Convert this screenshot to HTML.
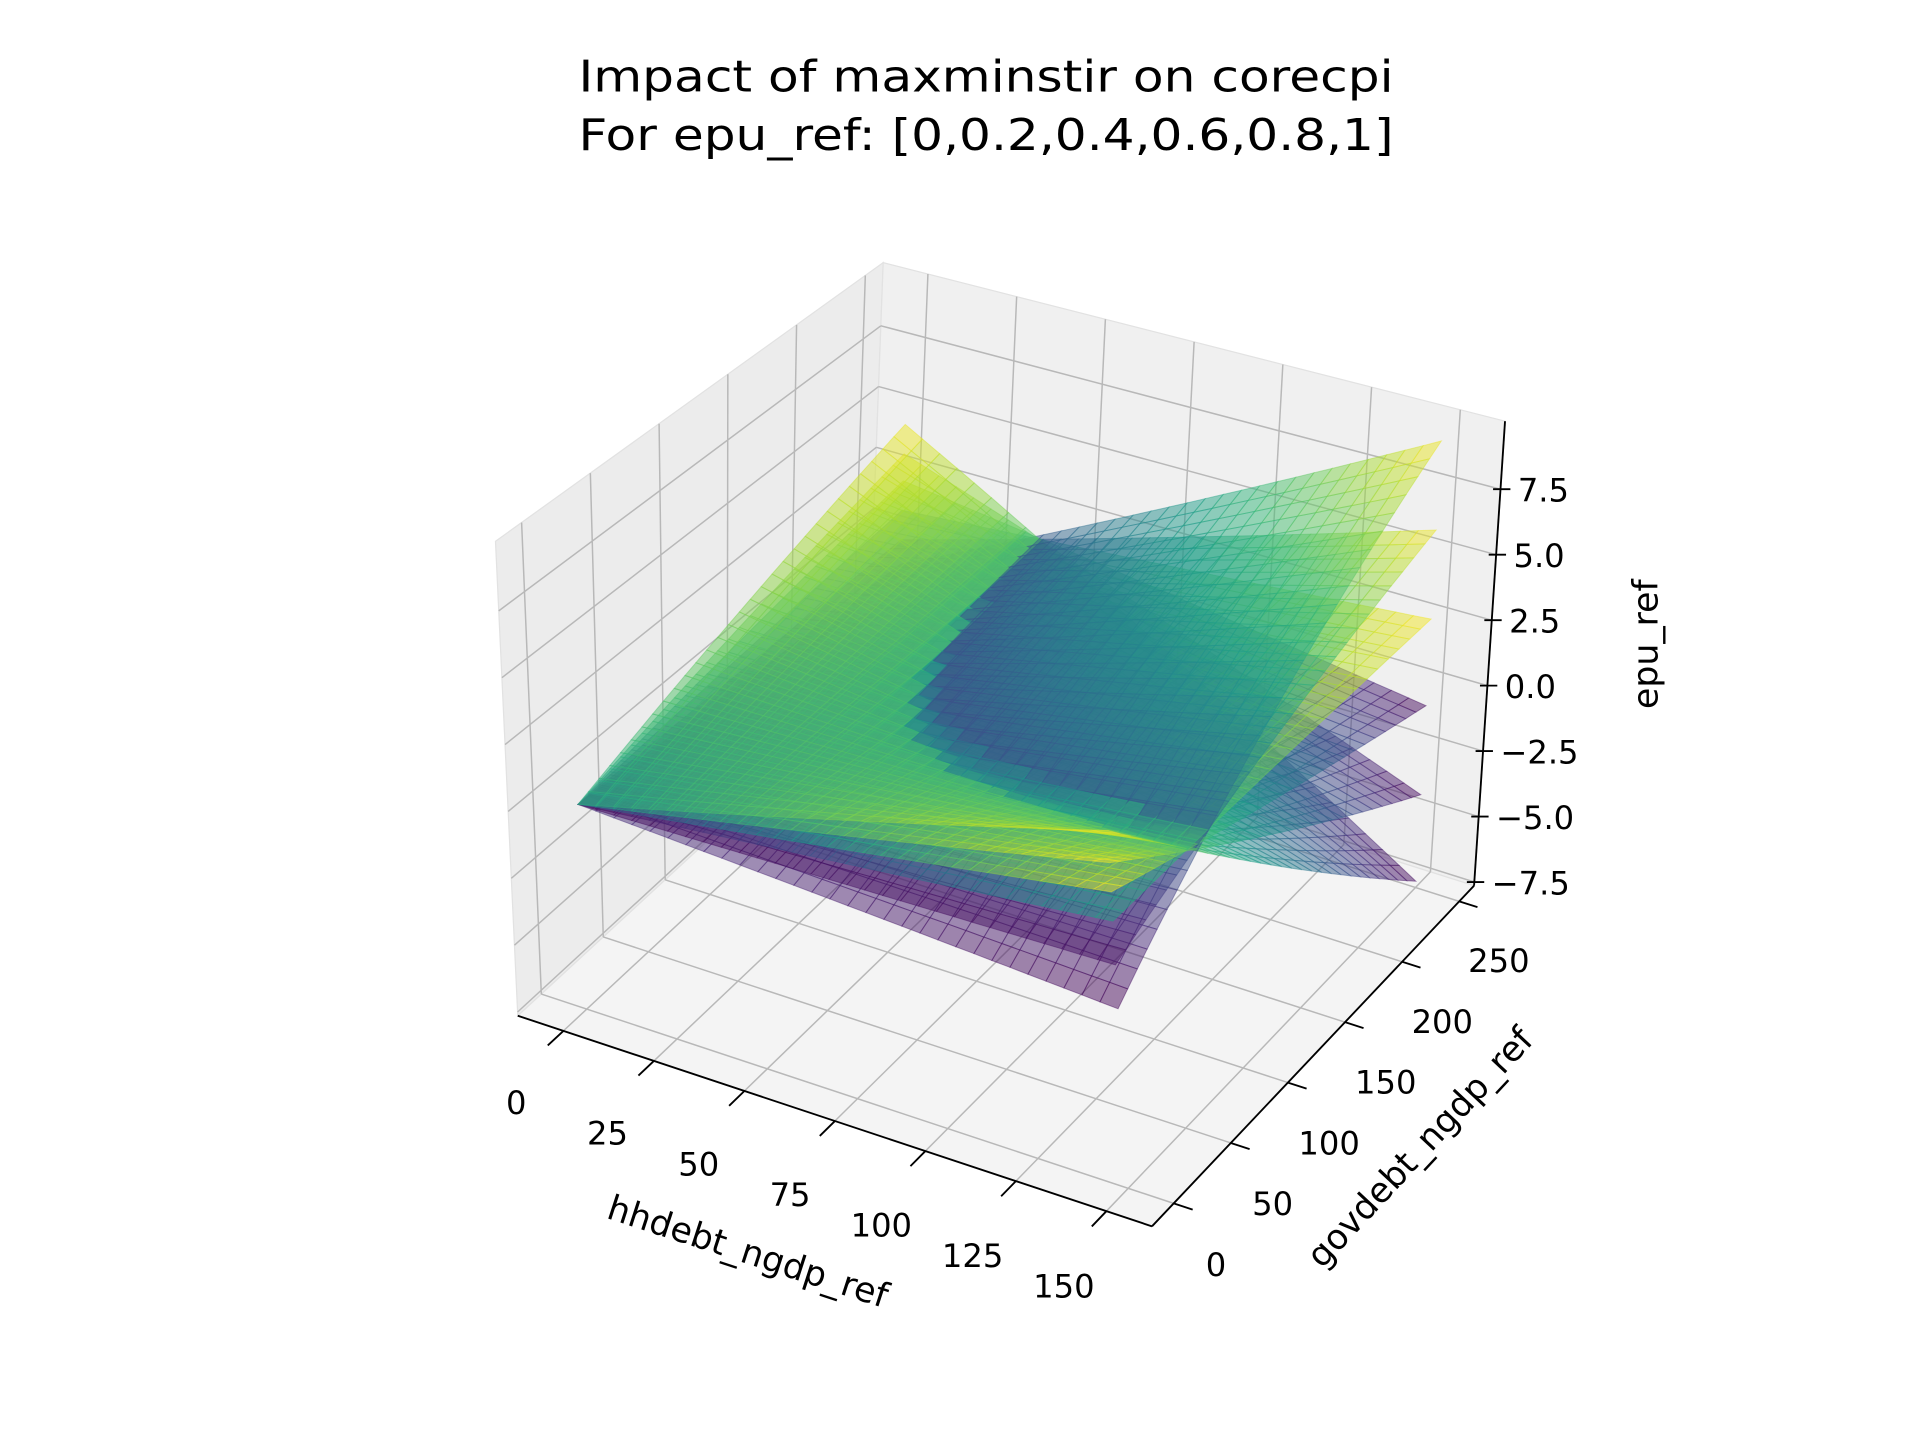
<!DOCTYPE html>
<html><head><meta charset="utf-8"><style>
html,body{margin:0;padding:0;background:#fff}
svg{display:block}
text{font-family:"DejaVu Sans","Liberation Sans",sans-serif;fill:#000}
</style></head><body>
<svg id="chart" width="1920" height="1440" viewBox="0 0 1550 1162.5" preserveAspectRatio="none" xmlns="http://www.w3.org/2000/svg">
<rect width="1550" height="1162.5" fill="#fff"/>
<text x="796" y="74" font-size="35" text-anchor="middle" textLength="658" lengthAdjust="spacingAndGlyphs">Impact of maxminstir on corecpi</text>
<text x="796" y="121" font-size="35" text-anchor="middle" textLength="658" lengthAdjust="spacingAndGlyphs">For epu_ref: [0,0.2,0.4,0.6,0.8,1]</text>
<g id="panes"></g>
<g id="grid"></g>
<g id="surf"></g>
<g id="axes"></g>
<text x="604" y="1020" font-size="28" text-anchor="middle" transform="rotate(18 604 1010)">hhdebt_ngdp_ref</text>
<text x="1146" y="936" font-size="28" text-anchor="middle" transform="rotate(-47 1146 926)">govdebt_ngdp_ref</text>
<text x="1328" y="530" font-size="28" text-anchor="middle" transform="rotate(-90 1328 520)">epu_ref</text>
</svg>
<script>
const xTicks=[0,25,50,75,100,125,150];
const yTicks=[0,50,100,150,200,250];
const zTicks=[-7.5,-5,-2.5,0,2.5,5,7.5];
const zTickLabels=["−7.5","−5.0","−2.5","0.0","2.5","5.0","7.5"];
const epuLevels=[0,0.2,0.4,0.6,0.8,1];
const z00=[0,0,0,0,0,0];
const z10=[4.6,3.5,2.5,1.5,0.0,-1.5];
const z01=[4.5,3.3,2.2,1.0,-0.2,-1.2];
const z11=[-7.4,-4.1,-0.7,2.6,6.0,9.4];
const xLim=[-12.6,162.6], yLim=[-19,263], zLim=[-7.64,10.1];
const xData=[0,150], yData=[0,250];

const NS="http://www.w3.org/2000/svg";
const C={A:[418,820],B:[930,990],C:[1190,715],D:[700,560],Ap:[400,437],Bp:[902,565],Cp:[1215,340],Dp:[713,212]};
function lerp(a,b,t){return [a[0]+(b[0]-a[0])*t,a[1]+(b[1]-a[1])*t];}
function P(s,t,w){
  const b0=lerp(lerp(C.A,C.B,s),lerp(C.D,C.C,s),t);
  const b1=lerp(lerp(C.Ap,C.Bp,s),lerp(C.Dp,C.Cp,s),t);
  return lerp(b0,b1,w);
}
const sx=x=>(x-xLim[0])/(xLim[1]-xLim[0]);
const sy=y=>(y-yLim[0])/(yLim[1]-yLim[0]);
const sz=z=>(z-zLim[0])/(zLim[1]-zLim[0]);
function pts(a){return a.map(p=>p[0].toFixed(1)+","+p[1].toFixed(1)).join(" ");}
function mk(tag,attrs,parent){const e=document.createElementNS(NS,tag);for(const k in attrs)e.setAttribute(k,attrs[k]);parent.appendChild(e);return e;}
const panes=document.getElementById('panes'),grid=document.getElementById('grid'),surf=document.getElementById('surf'),axes=document.getElementById('axes'),svg=document.getElementById('chart');

let e;
e=mk('polygon',{points:pts([P(0,0,0),P(0,1,0),P(0,1,1),P(0,0,1)]),fill:'#ececec',stroke:'#e2e2e2'},panes);

e=mk('polygon',{points:pts([P(0,1,0),P(1,1,0),P(1,1,1),P(0,1,1)]),fill:'#f0f0f0',stroke:'#e2e2e2'},panes);

e=mk('polygon',{points:pts([P(0,0,0),P(1,0,0),P(1,1,0),P(0,1,0)]),fill:'#f4f4f4',stroke:'#e2e2e2'},panes);


function gl(a,b){const l=mk('line',{x1:a[0],y1:a[1],x2:b[0],y2:b[1],stroke:'#b8b8b8','stroke-width':1.2},grid);
}
xTicks.forEach(v=>{const s=sx(v);gl(P(s,0,0),P(s,1,0));gl(P(s,1,0),P(s,1,1));});
yTicks.forEach(v=>{const t=sy(v);gl(P(0,t,0),P(1,t,0));gl(P(0,t,0),P(0,t,1));});
zTicks.forEach(v=>{const w=sz(v);gl(P(0,0,w),P(0,1,w));gl(P(0,1,w),P(1,1,w));});

const VS=[[68,1,84],[72,40,120],[62,74,137],[49,104,142],[38,130,142],[31,158,137],[53,183,121],[109,205,89],[180,222,44],[253,231,37]];
function vir(f){f=Math.max(0,Math.min(1,f))*(VS.length-1);const i=Math.min(VS.length-2,Math.floor(f)),r=f-i;
return 'rgb('+VS[i].map((c,k)=>Math.round(c+(VS[i+1][k]-c)*r)).join(',')+')';}

const N=30, cells=[];
epuLevels.forEach((lv,k)=>{
  const zf=(s,t)=>z00[k]*(1-s)*(1-t)+z10[k]*s*(1-t)+z01[k]*(1-s)*t+z11[k]*s*t;
  const vals=[z00[k],z10[k],z01[k],z11[k]];const mn=Math.min(...vals),mx=Math.max(...vals);
  for(let i=0;i<N;i++)for(let j=0;j<N;j++){
    const a=i/N,b=(i+1)/N,c=j/N,d=(j+1)/N;
    const X=f=>xData[0]+(xData[1]-xData[0])*f, Y=f=>yData[0]+(yData[1]-yData[0])*f;
    const q=[[a,c],[b,c],[b,d],[a,d]].map(([u,v])=>P(sx(X(u)),sy(Y(v)),sz(zf(u,v))));
    const zm=zf((a+b)/2,(c+d)/2);
    cells.push({q,col:vir((zm-mn)/(mx-mn||1)),depth:(a+b)/2-(c+d)/2+zm*0.002,k});
  }
});
cells.sort((p,q)=>p.depth-q.depth);
cells.forEach(c=>{const p=mk('polygon',{points:pts(c.q),fill:c.col,'fill-opacity':0.5,stroke:c.col,'stroke-opacity':0.45,'stroke-width':0.8},surf);
});

function al(a,b,name){const l=mk('line',{x1:a[0],y1:a[1],x2:b[0],y2:b[1],stroke:'#000','stroke-width':1.5},axes);
}
function tx(x,y,s,anchor,name){const t=mk('text',{x:x,y:y,'font-size':26,'text-anchor':anchor},svg);t.textContent=s;
}
al(P(0,0,0),P(1,0,0),'x-axis-line');
al(P(1,0,0),P(1,1,0),'y-axis-line');
al(P(1,1,0),P(1,1,1),'z-axis-line');
xTicks.forEach(v=>{const s=sx(v);const a=P(s,0,0),b=P(s,-0.045,0);al(a,b,'x-tick');
  const l=P(s,-0.2,0);tx(l[0]+18,l[1]+15,String(v),'middle','x-tick-label');});
yTicks.forEach(v=>{const t=sy(v);const a=P(1,t,0),b=P(1.03,t,0);al(a,b,'y-tick');
  const l=P(1.11,t,0);tx(l[0]-22,l[1]+40,String(v),'middle','y-tick-label');});
zTicks.forEach((v,i)=>{const w=sz(v);const a=P(1,1,w);al([a[0]-6,a[1]],[a[0]+8,a[1]],'z-tick');
  tx(a[0]+14,a[1]+10,zTickLabels[i],'start','z-tick-label');});
</script>
</body></html>
